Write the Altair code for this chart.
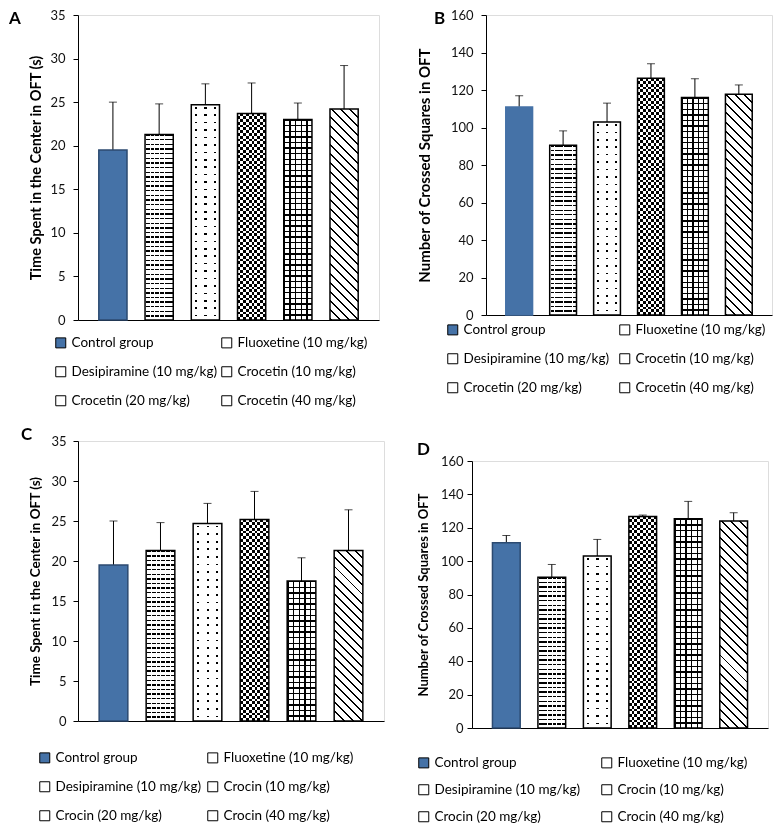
import math
import altair as alt
import pandas as pd

FONT = "Lato"
BLUE = "#4572a7"
BLUE_EDGE = "#2c4a70"
INK = "#000000"
PAPER = "#ffffff"
CLEAR = "rgba(255,255,255,0)"

# ---------------- data ----------------
groups_ab = ["Control group", "Fluoxetine (10 mg/kg)", "Desipiramine (10 mg/kg)",
             "Crocetin (10 mg/kg)", "Crocetin (20 mg/kg)", "Crocetin (40 mg/kg)"]
groups_cd = ["Control group", "Fluoxetine (10 mg/kg)", "Desipiramine (10 mg/kg)",
             "Crocin (10 mg/kg)", "Crocin (20 mg/kg)", "Crocin (40 mg/kg)"]

a_mean = [19.5, 21.3, 24.7, 23.7, 23.0, 24.2]
a_upper = [25.0, 24.8, 27.1, 27.2, 24.9, 29.2]
b_mean = [111.0, 90.5, 103.0, 126.3, 116.0, 117.7]
b_upper = [117.0, 98.2, 113.0, 134.0, 126.0, 122.7]
c_mean = [19.5, 21.3, 24.7, 25.2, 17.5, 21.3]
c_upper = [25.0, 24.8, 27.2, 28.7, 20.4, 26.4]
d_mean = [111.0, 90.4, 103.0, 126.8, 125.4, 124.0]
d_upper = [115.4, 98.0, 113.0, 127.6, 135.8, 129.0]

time_ticks = [0, 5, 10, 15, 20, 25, 30, 35]
count_ticks = [0, 20, 40, 60, 80, 100, 120, 140, 160]
time_title = "Time Spent in the Center in OFT (s)"
count_title = "Number of Crossed Squares in OFT"

# legend reads row by row: legend columns are filled top-down, so reorder
LEGEND_ORDER = [0, 2, 4, 1, 3, 5]

PAD_IN = 0.39
PAD_OUT = 0.45


# ---------------- hatch patterns (gradient fills) ----------------
def stripe_stops(n, start, frac, ink, paper):
    stops = []

    def add(o, c):
        stops.append(alt.GradientStop(offset=round(min(max(o, 0.0), 1.0), 5), color=c))

    for k in range(n):
        p0 = k / n
        a = (k + start) / n
        b = (k + start + frac) / n
        p1 = (k + 1) / n
        add(p0, paper)
        add(a, paper)
        add(a, ink)
        add(b, ink)
        add(b, paper)
        add(p1, paper)
    return stops


def grad(stops, x1, y1, x2, y2):
    return alt.LinearGradient(gradient="linear", stops=stops, x1=x1, y1=y1, x2=x2, y2=y2)


def pattern_layers(i, w, h):
    h = max(h, 1.0)
    if i == 1:  # wavy lines
        n = max(1, round(h / 4.6))
        rows = grad(stripe_stops(n, 0.0, 0.3, INK, PAPER), 0, 0, 0, 1)
        mask = grad(stripe_stops(6, 0.0, 0.18, PAPER, CLEAR), 0, 0, 1, 0)
        return [(rows, None), (mask, None)]
    if i == 2:  # sparse chevrons
        n = max(1, round(h / 7.5))
        rows = grad(stripe_stops(n, 0.3, 0.22, INK, PAPER), 0, 0, 0, 1)
        mask = grad(stripe_stops(3, 0.4, 0.24, CLEAR, PAPER), 0, 0, 1, 0)
        return [(rows, None), (mask, None)]
    if i == 3:  # checkerboard
        ncol = max(1, round(w / 5.6))
        nrow = max(1, round(h / 5.6))
        return [(grad(stripe_stops(ncol, 0.0, 0.5, INK, PAPER), 0, 0, 1, 0), None),
                (grad(stripe_stops(nrow, 0.0, 0.5, PAPER, INK), 0, 0, 0, 1), "difference")]
    if i == 4:  # square grid
        nrow = max(1, round(h / 5.6))
        return [(grad(stripe_stops(5, 0.0, 0.24, INK, CLEAR), 0, 0, 1, 0), None),
                (grad(stripe_stops(nrow, 0.0, 0.24, INK, CLEAR), 0, 0, 0, 1), None)]
    # i == 5 : diagonal waves
    r = w / h
    s = (1 + r) / (1 + r * r)
    n = max(1, round((h + w) / (6.5 * math.sqrt(2))))
    return [(grad(stripe_stops(n, 0.0, 0.22, INK, CLEAR), 0, 1, s * r, 1 - s), None)]


# ---------------- one panel ----------------
def panel(letter, cats, means, uppers, ymax, ticks, ytitle, W, H, cfg):
    df = pd.DataFrame({"group": cats, "mean": means, "upper": uppers})
    xenc = alt.X("group:N",
                 scale=alt.Scale(domain=cats, paddingInner=PAD_IN, paddingOuter=PAD_OUT),
                 axis=alt.Axis(labels=False, ticks=False, title=None,
                               domainColor="black", domainWidth=1))
    yaxis = alt.Axis(values=ticks, title=ytitle, grid=False,
                     domainColor="black", domainWidth=1,
                     tickColor="black", tickSize=5, tickWidth=1,
                     labelFont=FONT, labelFontSize=13, labelColor="#111111",
                     labelPadding=cfg["lp"],
                     titleFont=FONT, titleFontSize=cfg["tfs"], titleFontWeight="bold",
                     titleColor="black", titlePadding=cfg["tp"])
    yscale = alt.Scale(domain=[0, ymax], nice=False, zero=True)

    def Y(field):
        return alt.Y(f"{field}:Q", scale=yscale, axis=yaxis)

    colors = [BLUE] + ["white"] * 5
    leg_domain = [cats[k] for k in LEGEND_ORDER]
    leg_range = [colors[k] for k in LEGEND_ORDER]

    base = alt.Chart(df).encode(x=xenc)
    layers = [
        base.mark_rule(color="black", strokeWidth=1).encode(y=Y("mean"), y2="upper:Q"),
        base.mark_tick(orient="horizontal", color="black", thickness=1, size=8).encode(y=Y("upper")),
        base.mark_bar().encode(
            y=Y("mean"),
            color=alt.Color("group:N",
                            scale=alt.Scale(domain=leg_domain, range=leg_range),
                            legend=alt.Legend(title=None, orient="none",
                                              legendX=cfg["lx"], legendY=cfg["ly"],
                                              columns=2, symbolType="square", symbolSize=100,
                                              symbolStrokeColor="black", symbolStrokeWidth=1,
                                              labelFont=FONT, labelFontSize=13.5,
                                              labelColor="black", labelOffset=4, labelLimit=0,
                                              columnPadding=cfg["cp"], rowPadding=cfg["rp"]))),
    ]
    step = W / (6 - PAD_IN + 2 * PAD_OUT)
    bw = step * (1 - PAD_IN)
    for i in range(1, 6):
        h = means[i] / ymax * H
        for fill, blend in pattern_layers(i, bw, h):
            kw = {"fill": fill}
            if blend:
                kw["blend"] = blend
            layers.append(base.transform_filter(alt.datum.group == cats[i])
                          .mark_bar(**kw).encode(y=Y("mean")))
    layers.append(base.mark_bar(fillOpacity=0, strokeWidth=1.5).encode(
        y=Y("mean"),
        stroke=alt.condition(alt.datum.group == cats[0], alt.value(cfg["edge"]), alt.value("black"))))

    # panel letter
    tkw = dict(text=cfg.get("ttext", letter), align="left", baseline="alphabetic", font=FONT,
               fontSize=17, fontWeight="bold", color="black")
    if "tlh" in cfg:
        tkw["lineHeight"] = cfg["tlh"]
    layers.append(alt.Chart(pd.DataFrame({"k": [0]})).mark_text(**tkw).encode(
        x=alt.value(cfg["tx"]), y=alt.value(cfg["ty"])))
    return alt.layer(*layers).properties(width=W, height=H)


pA = panel("A", groups_ab, a_mean, a_upper, 35, time_ticks, time_title, 301, 305,
           dict(lp=8, tp=6, tfs=14.5, lx=-24, ly=321, cp=1, rp=14, edge=BLUE_EDGE,
                tx=-69, ty=9))
pB = panel("B", groups_ab, b_mean, b_upper, 160, count_ticks, count_title, 286, 300,
           dict(lp=8, tp=18, tfs=15, lx=-40, ly=308, cp=7, rp=14, edge=BLUE,
                tx=-52, ty=9))
pC = panel("C", groups_cd, c_mean, c_upper, 35, time_ticks, time_title, 306, 280,
           dict(lp=7, tp=8, tfs=13.5, lx=-40, ly=310, cp=3, rp=14, edge=BLUE_EDGE,
                tx=-57, ty=-1))
# panel D sits lower than C: an empty first line above the letter keeps that room
pD = panel("D", groups_cd, d_mean, d_upper, 160, count_ticks, count_title, 296, 267,
           dict(lp=4, tp=10, tfs=13, lx=-55, ly=295, cp=18, rp=12, edge=BLUE_EDGE,
                tx=-55, ty=-21, tlh=15, ttext=["", "D"]))

chart = alt.concat(pA, pB, pC, pD, columns=2, align="none", bounds="full",
                   spacing={"row": 16, "column": 31}) \
    .resolve_scale(color="independent", x="independent", y="independent") \
    .resolve_legend(color="independent") \
    .properties(padding=0, background="white") \
    .configure_view(stroke="transparent") \
    .configure(font=FONT)

chart.save("out.html", embed_options={"renderer": "svg", "actions": False})
